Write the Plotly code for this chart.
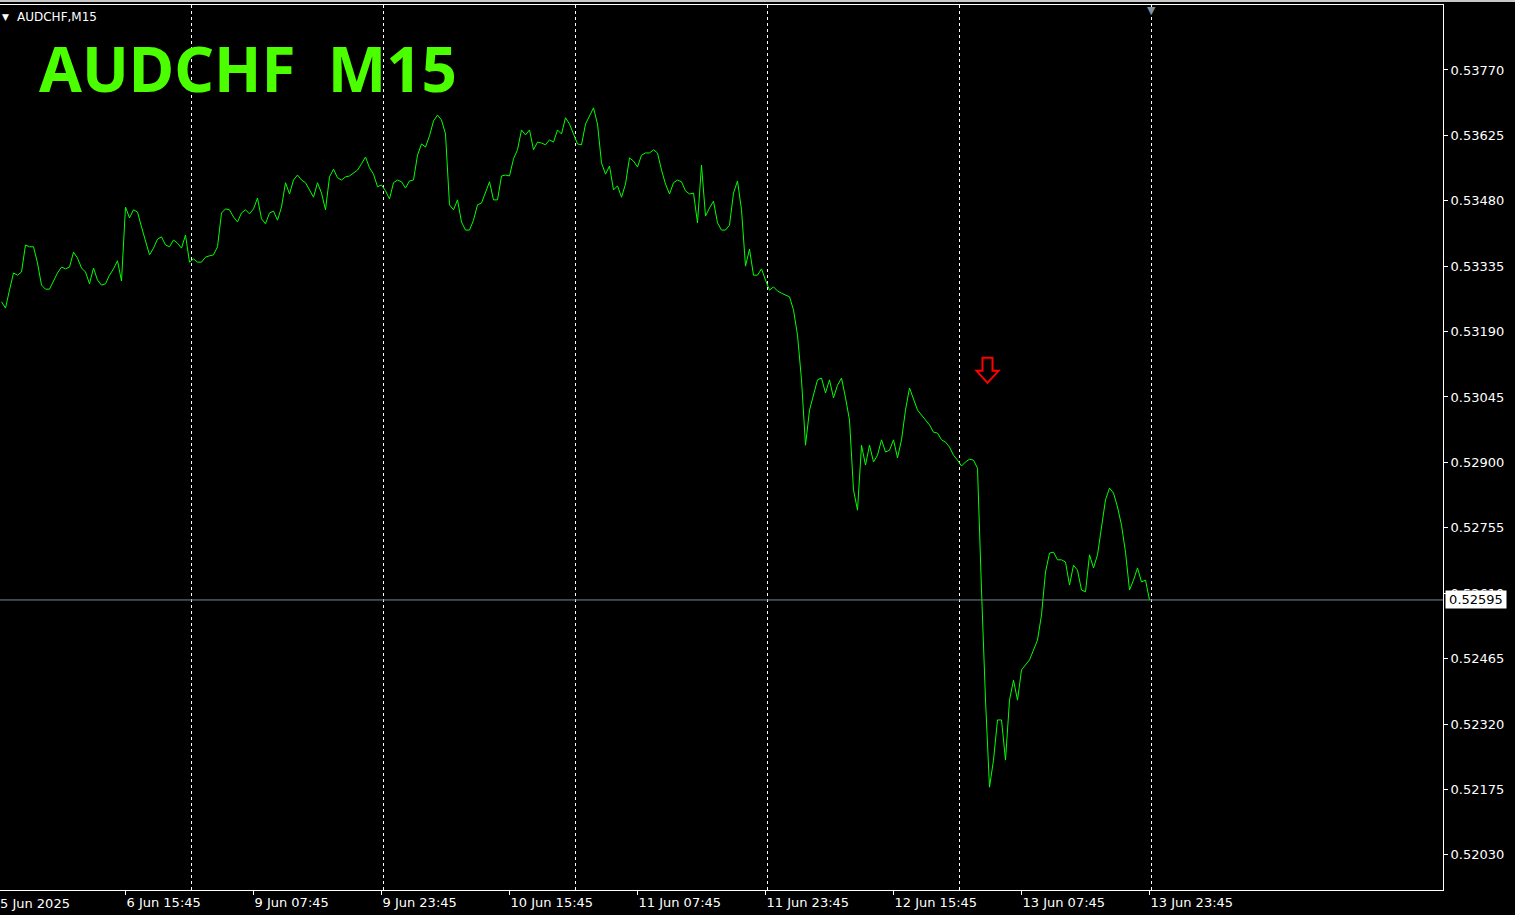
import pandas as pd
import plotly.graph_objects as go

# ---------------- data ----------------
symbol_title = "AUDCHF\u00a0\u00a0M15"
chart_caption = "AUDCHF,M15"

# trading days shown (previous day first, only used for the first axis label)
trading_days = ["2025-06-05", "2025-06-06", "2025-06-09", "2025-06-10",
                "2025-06-11", "2025-06-12", "2025-06-13"]
first_data_day = 1          # index in trading_days where the closes start
bars_per_day = 96           # M15 bars per day

# close price every second M15 bar (00:15, 00:45, ... each day)
close_prices = [
    0.53256, 0.53242, 0.53282, 0.53320, 0.53315, 0.53322, 0.53382, 0.53378, 0.53378, 0.53342, 0.53293, 0.53284,
    0.53284, 0.53304, 0.53320, 0.53333, 0.53329, 0.53333, 0.53366, 0.53353, 0.53331, 0.53322, 0.53296, 0.53331,
    0.53304, 0.53293, 0.53296, 0.53315, 0.53329, 0.53347, 0.53302, 0.53466, 0.53442, 0.53460, 0.53455, 0.53422,
    0.53393, 0.53360, 0.53375, 0.53395, 0.53400, 0.53382, 0.53378, 0.53393, 0.53386, 0.53375, 0.53404, 0.53344,
    0.53351, 0.53344, 0.53344, 0.53355, 0.53358, 0.53360, 0.53378, 0.53453, 0.53462, 0.53460, 0.53444, 0.53433,
    0.53453, 0.53460, 0.53451, 0.53462, 0.53486, 0.53440, 0.53429, 0.53453, 0.53457, 0.53437, 0.53466, 0.53520,
    0.53495, 0.53526, 0.53537, 0.53526, 0.53520, 0.53504, 0.53488, 0.53520, 0.53497, 0.53460, 0.53533, 0.53550,
    0.53531, 0.53526, 0.53533, 0.53535, 0.53542, 0.53548, 0.53562, 0.53577, 0.53553, 0.53539, 0.53511, 0.53515,
    0.53502, 0.53484, 0.53520, 0.53526, 0.53522, 0.53508, 0.53524, 0.53526, 0.53581, 0.53606, 0.53599, 0.53624,
    0.53657, 0.53670, 0.53659, 0.53628, 0.53471, 0.53460, 0.53482, 0.53433, 0.53415, 0.53415, 0.53437, 0.53471,
    0.53475, 0.53497, 0.53522, 0.53482, 0.53482, 0.53535, 0.53537, 0.53535, 0.53573, 0.53593, 0.53637, 0.53626,
    0.53637, 0.53593, 0.53610, 0.53608, 0.53604, 0.53615, 0.53610, 0.53637, 0.53628, 0.53664, 0.53650, 0.53628,
    0.53606, 0.53604, 0.53650, 0.53668, 0.53686, 0.53650, 0.53564, 0.53539, 0.53557, 0.53504, 0.53513, 0.53488,
    0.53517, 0.53575, 0.53568, 0.53555, 0.53581, 0.53586, 0.53586, 0.53593, 0.53586, 0.53548, 0.53517, 0.53495,
    0.53520, 0.53526, 0.53522, 0.53502, 0.53495, 0.53497, 0.53431, 0.53559, 0.53446, 0.53464, 0.53479, 0.53431,
    0.53415, 0.53415, 0.53426, 0.53497, 0.53524, 0.53460, 0.53335, 0.53373, 0.53315, 0.53315, 0.53329, 0.53304,
    0.53282, 0.53289, 0.53280, 0.53275, 0.53271, 0.53267, 0.53238, 0.53182, 0.53083, 0.52938, 0.53016, 0.53049,
    0.53083, 0.53087, 0.53054, 0.53083, 0.53043, 0.53071, 0.53087, 0.53043, 0.52994, 0.52839, 0.52794, 0.52938,
    0.52894, 0.52938, 0.52901, 0.52916, 0.52950, 0.52923, 0.52927, 0.52950, 0.52910, 0.52950, 0.53016, 0.53065,
    0.53038, 0.53016, 0.53005, 0.52994, 0.52983, 0.52967, 0.52965, 0.52950, 0.52945, 0.52934, 0.52916, 0.52905,
    0.52892, 0.52901, 0.52907, 0.52905, 0.52887, 0.52617, 0.52373, 0.52180, 0.52240, 0.52329, 0.52329, 0.52240,
    0.52373, 0.52417, 0.52373, 0.52440, 0.52451, 0.52462, 0.52484, 0.52506, 0.52562, 0.52657, 0.52699, 0.52701,
    0.52684, 0.52684, 0.52679, 0.52628, 0.52672, 0.52661, 0.52617, 0.52613, 0.52695, 0.52666, 0.52695, 0.52755,
    0.52817, 0.52843, 0.52832, 0.52801, 0.52761, 0.52701, 0.52617, 0.52639, 0.52666, 0.52635, 0.52639, 0.52595,
]

price_ticks = [0.52030, 0.52175, 0.52320, 0.52465, 0.52610, 0.52755, 0.52900,
               0.53045, 0.53190, 0.53335, 0.53480, 0.53625, 0.53770]
price_range = [0.51952, 0.53914]

time_labels = ["5 Jun 2025", "6 Jun 15:45", "9 Jun 07:45", "9 Jun 23:45", "10 Jun 15:45",
               "11 Jun 07:45", "11 Jun 23:45", "12 Jun 15:45", "13 Jun 07:45", "13 Jun 23:45"]
time_label_times = ["2025-06-05 23:45", "2025-06-06 15:45", "2025-06-09 07:45", "2025-06-09 23:45",
                    "2025-06-10 15:45", "2025-06-11 07:45", "2025-06-11 23:45", "2025-06-12 15:45",
                    "2025-06-13 07:45", "2025-06-13 23:45"]
separator_times = ["2025-06-09 00:00", "2025-06-10 00:00", "2025-06-11 00:00",
                   "2025-06-12 00:00", "2025-06-13 00:00", "2025-06-14 00:00"]

signal_time = "2025-06-13 03:30"
signal_price = 0.53103

# ---------------- helpers ----------------
day_pos = {d: k for k, d in enumerate(trading_days)}


def bar_index(ts):
    t = pd.Timestamp(ts)
    d = t.strftime("%Y-%m-%d")
    pos = day_pos.get(d, len(trading_days))
    return (pos - first_data_day) * bars_per_day + (t.hour * 60 + t.minute) // 15


bar_times = []
for d in trading_days[first_data_day:]:
    for q in range(1, bars_per_day, 2):
        bar_times.append(pd.Timestamp(d) + pd.Timedelta(minutes=15 * q))
bar_x = [bar_index(t) for t in bar_times]

last_price = close_prices[-1]
x_range = [0.25, 721.75]


def x_to_paper(v):
    return (v - x_range[0]) / (x_range[1] - x_range[0])


FONT = "DejaVu Sans"
TICK_FONT = dict(family=FONT, size=13, color="#ffffff")

fig = go.Figure()
fig.add_trace(go.Scatter(x=bar_x, y=close_prices, mode="lines",
                         line=dict(color="#00ff00", width=1), hoverinfo="skip"))

label_x = [bar_index(t) for t in time_label_times]
inrange = [(x, l) for x, l in zip(label_x, time_labels) if x >= x_range[0]]

shapes = []
# window chrome line at the very top
shapes.append(dict(type="line", xref="paper", yref="paper", x0=0, x1=1.05, y0=1.0045, y1=1.0045,
                   line=dict(color="#c8c8c8", width=2)))
for s in separator_times:
    xs = bar_index(s)
    shapes.append(dict(type="line", xref="x", yref="paper", x0=xs, x1=xs, y0=0, y1=1,
                       line=dict(color="#ffffff", width=1, dash="3px,3px"), layer="below"))
shapes.append(dict(type="line", xref="paper", yref="y", x0=0, x1=1, y0=last_price, y1=last_price,
                   line=dict(color="#778899", width=1)))
# hollow down arrow (sell signal), drawn in pixels around its anchor
shapes.append(dict(type="path", xref="x", yref="y", xsizemode="pixel", ysizemode="pixel",
                   xanchor=bar_index(signal_time), yanchor=signal_price,
                   path="M -5 13 L 5 13 L 5 0 L 11 0 L 0 -12 L -11 0 L -5 0 Z",
                   line=dict(color="#ff0000", width=2), fillcolor="rgba(0,0,0,0)"))

annotations = [
    dict(text=symbol_title, xref="paper", yref="paper", x=0.0255, y=0.929, xanchor="left",
         yanchor="middle", showarrow=False,
         font=dict(family="Noto Sans", size=62, color="#4cff00", weight="bold")),
    dict(text="▼", xref="paper", yref="paper", x=0, y=1, xanchor="left", yanchor="top",
         xshift=0, yshift=-5, showarrow=False, font=dict(family=FONT, size=9, color="#ffffff")),
    dict(text=chart_caption, xref="paper", yref="paper", x=0, y=1, xanchor="left", yanchor="top",
         xshift=15, yshift=-3, showarrow=False, font=dict(family=FONT, size=12, color="#ffffff")),
    dict(text=time_labels[0], xref="paper", yref="paper", x=x_to_paper(label_x[0]), y=0,
         xanchor="left", yanchor="top", yshift=-4, showarrow=False, font=TICK_FONT),
    dict(text=f"{last_price:.5f}", xref="paper", yref="y", x=1, y=last_price, xanchor="left",
         yanchor="middle", xshift=2, showarrow=False, bgcolor="#ffffff", borderpad=1,
         width=58, align="center", font=dict(family=FONT, size=13, color="#000000")),
    dict(text="▼", xref="x", yref="paper", x=bar_index(separator_times[-1]), y=1, yanchor="top",
         showarrow=False, yshift=3, font=dict(family=FONT, size=11, color="#8090a0")),
]

fig.update_layout(
    width=1515, height=915,
    paper_bgcolor="#000000", plot_bgcolor="#000000",
    margin=dict(l=0, r=72, t=5, b=25),
    showlegend=False,
    shapes=shapes,
    annotations=annotations,
    xaxis=dict(range=x_range, tickmode="array", tickvals=[x for x, _ in inrange],
               ticktext=[l for _, l in inrange], ticks="outside", ticklen=4, tickcolor="#ffffff",
               ticklabelposition="outside right", tickfont=TICK_FONT,
               showgrid=False, zeroline=False, showline=True, linecolor="#ffffff", linewidth=1,
               mirror=True),
    yaxis=dict(side="right", range=price_range, tickmode="array", tickvals=price_ticks,
               ticktext=[f"{v:.5f}" for v in price_ticks], ticks="outside", ticklen=4,
               tickcolor="#ffffff", tickfont=TICK_FONT,
               showgrid=False, zeroline=False, showline=True, linecolor="#ffffff", linewidth=1),
)

fig.write_html("out.html", config={"displayModeBar": False},
               post_script="document.body.style.margin='0';document.body.style.overflow='hidden';")
